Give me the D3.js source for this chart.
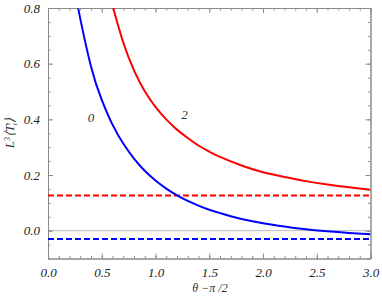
<!DOCTYPE html>
<html><head><meta charset="utf-8">
<script src="https://cdn.jsdelivr.net/npm/d3@7"></script>
<style>
html,body{margin:0;padding:0;background:#fff;}
svg{display:block;}
.tl text{font-family:"Liberation Serif","DejaVu Serif",serif;font-style:italic;font-size:13px;fill:#222;}
</style></head>
<body><svg id="c" width="382" height="300"></svg>
<script>
// data
const theta0 = [0.282,0.3,0.4,0.5,0.6,0.7,0.8,0.9,1.0,1.1,1.2,1.3,1.4,1.5,1.6,1.7,1.8,2.0,2.2,2.4,2.6,2.8,3.0];
const curve0 = [0.80,0.762,0.590,0.470,0.381,0.313,0.259,0.215,0.180,0.151,0.127,0.107,0.090,0.075,0.063,0.052,0.042,0.027,0.015,0.005,-0.002,-0.008,-0.013];
const theta2 = [0.607,0.7,0.8,0.9,1.0,1.1,1.2,1.3,1.4,1.5,1.6,1.8,2.0,2.2,2.4,2.6,2.8,3.0];
const curve2 = [0.80,0.676,0.576,0.501,0.445,0.400,0.363,0.333,0.306,0.284,0.265,0.234,0.210,0.193,0.178,0.166,0.156,0.147];
const asym0 = -0.03;
const asym2 = 0.126;
const xTicks = [0.0,0.5,1.0,1.5,2.0,2.5,3.0];
const yTicks = [0.0,0.2,0.4,0.6,0.8];
const curveLabels = ["0","2"];
const labelPos = [[0.40,0.39],[1.27,0.40]];

const svg = d3.select("#c");
const x = d3.scaleLinear().domain([0,3]).range([48,370.5]);
const y = d3.scaleLinear().domain([-0.1,0.8]).range([258.5,8]);
const L = 48, R = 370.5, T = 8, B = 258.5;
const frameCol = "#8a8a8a";

svg.append("defs").append("clipPath").attr("id","pc")
  .append("rect").attr("x",L).attr("y",T).attr("width",R-L).attr("height",B-T);

// zero line
svg.append("line").attr("x1",L).attr("x2",R).attr("y1",y(0)).attr("y2",y(0))
  .attr("stroke","#bbb").attr("stroke-width",1);

const minorX = d3.range(0,3.0001,0.1).map(v=>+v.toFixed(2));
const minorY = d3.range(-0.1,0.8001,0.05).map(v=>+v.toFixed(3));
const fmt = d3.format(".1f");

function styleAxis(g){
  g.select(".domain").attr("stroke",frameCol);
  g.selectAll(".tick line").attr("stroke",frameCol);
}
// bottom
svg.append("g").attr("class","tl").attr("transform",`translate(0,${B})`)
  .call(d3.axisBottom(x).tickValues(minorX).tickSize(-2.5).tickFormat("").tickSizeOuter(0)).call(styleAxis);
svg.append("g").attr("class","tl").attr("transform",`translate(0,${B})`)
  .call(d3.axisBottom(x).tickValues(xTicks).tickSize(-5).tickPadding(9).tickFormat(fmt).tickSizeOuter(0)).call(styleAxis);
// top
svg.append("g").attr("transform",`translate(0,${T})`)
  .call(d3.axisTop(x).tickValues(minorX).tickSize(-2.5).tickFormat("").tickSizeOuter(0)).call(styleAxis);
svg.append("g").attr("transform",`translate(0,${T})`)
  .call(d3.axisTop(x).tickValues(xTicks).tickSize(-5).tickFormat("").tickSizeOuter(0)).call(styleAxis);
// left
svg.append("g").attr("class","tl").attr("transform",`translate(${L},0)`)
  .call(d3.axisLeft(y).tickValues(minorY).tickSize(-2.5).tickFormat("").tickSizeOuter(0)).call(styleAxis);
svg.append("g").attr("class","tl").attr("transform",`translate(${L},0)`)
  .call(d3.axisLeft(y).tickValues(yTicks).tickSize(-5).tickPadding(8).tickFormat(fmt).tickSizeOuter(0)).call(styleAxis);
// right
svg.append("g").attr("transform",`translate(${R},0)`)
  .call(d3.axisRight(y).tickValues(minorY).tickSize(-2.5).tickFormat("").tickSizeOuter(0)).call(styleAxis);
svg.append("g").attr("transform",`translate(${R},0)`)
  .call(d3.axisRight(y).tickValues(yTicks).tickSize(-5).tickFormat("").tickSizeOuter(0)).call(styleAxis);
svg.selectAll(".tl text").attr("fill","#222");

// dashed asymptotes
const plot = svg.append("g").attr("clip-path","url(#pc)");
plot.append("line").attr("x1",x(0)).attr("x2",x(3)).attr("y1",y(asym2)).attr("y2",y(asym2))
  .attr("stroke","#ff0000").attr("stroke-width",2).attr("stroke-dasharray","6,3");
plot.append("line").attr("x1",x(0)).attr("x2",x(3)).attr("y1",y(asym0)).attr("y2",y(asym0))
  .attr("stroke","#0000ff").attr("stroke-width",2).attr("stroke-dasharray","6,3");

const line = d3.line().x(d=>x(d[0])).y(d=>y(d[1])).curve(d3.curveNatural);
plot.append("path").attr("d",line(d3.zip(theta2,curve2))).attr("fill","none")
  .attr("stroke","#ff0000").attr("stroke-width",2);
plot.append("path").attr("d",line(d3.zip(theta0,curve0))).attr("fill","none")
  .attr("stroke","#0000ff").attr("stroke-width",2);

// curve labels
svg.selectAll(".cl").data(curveLabels).enter().append("text")
  .attr("x",(d,i)=>x(labelPos[i][0])).attr("y",(d,i)=>y(labelPos[i][1]))
  .attr("text-anchor","middle")
  .style("font-family","'Liberation Serif',serif").style("font-style","italic").style("font-size","13px")
  .attr("fill","#333").text(d=>d);

// axis titles
const xt = svg.append("text").attr("x",210).attr("y",292).attr("text-anchor","middle")
  .style("font-family","'Liberation Serif',serif").style("font-style","italic").style("font-size","12px").attr("fill","#333");
xt.text("θ −π /2");

const yt = svg.append("text").attr("transform",`translate(14,${(T+B)/2}) rotate(-90)`).attr("text-anchor","middle")
  .style("font-family","'Liberation Serif',serif").style("font-style","italic").style("font-size","13px").attr("fill","#333");
yt.append("tspan").text("L");
yt.append("tspan").attr("dy",-4).style("font-size","8px").text("3");
yt.append("tspan").attr("dy",4).text("⟨T");
yt.append("tspan").attr("dy",-4).style("font-size","7px").text("t");
yt.append("tspan").attr("dy",7).attr("dx",-2.5).style("font-size","7px").text("t");
yt.append("tspan").attr("dy",-3).text("⟩");
</script></body></html>
